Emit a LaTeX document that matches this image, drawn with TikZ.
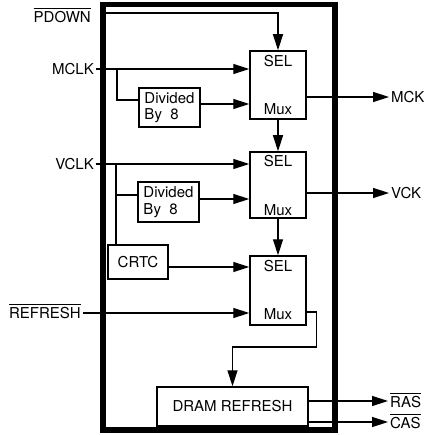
\documentclass[tikz,border=0pt]{standalone}
\usepackage{fontspec}
\setmainfont{TeX Gyre Heros}
\usetikzlibrary{arrows.meta,positioning}
\newcommand{\ovl}[1]{$\overline{\mbox{#1\rule{0pt}{12.5pt}}}$}

\begin{document}
\begin{tikzpicture}[
    x=1pt, y=-1pt,
    font=\fontsize{15}{16.5}\selectfont,
    box/.style={rectangle, draw, line width=1.5pt, inner sep=2pt},
    mux/.style={box, minimum width=56pt, minimum height=68pt},
    divbox/.style={box, minimum width=61pt, minimum height=39pt, align=left},
    pin/.style={inner sep=2pt},
    wire/.style={line width=1.4pt},
    arrow/.style={wire, -{Triangle[length=16pt,width=10pt]}}
]
    \useasboundingbox (0,0) rectangle (429,435);

    % Frame
    \draw[line width=5.5pt] (103,4.5) rectangle (335,430);

    % Multiplexers
    \node[mux, label={[anchor=north, yshift=-2pt]north:SEL}, label={[anchor=south, yshift=1pt]south:Mux}] (mux1) at (278,85) {};
    \node[mux, minimum height=66pt, label={[anchor=north, yshift=-1pt]north:SEL}, label={[anchor=south, yshift=-1pt]south:Mux}] (mux2) at (278,185) {};
    \node[mux, minimum height=69pt, label={[anchor=north, yshift=-2pt]north:SEL}, label={[anchor=south, yshift=2pt]south:Mux}] (mux3) at (278,290.5) {};

    % Blocks
    \node[divbox] (div1) at (169.5,107.5) {Divided\\By~~8};
    \node[divbox, minimum height=40pt] (div2) at (168.5,202) {Divided\\By~~8};
    \node[box, minimum width=60pt, minimum height=34pt] (crtc) at (138,262) {CRTC};
    \node[box, minimum width=151pt, minimum height=39pt] (dram) at (232.5,406.5) {DRAM~REFRESH};

    % Pins
    \node[pin, anchor=east] (pdown) at (93,15) {\ovl{PDOWN}};
    \node[pin, anchor=east] (mclk) at (96,69) {MCLK};
    \node[pin, anchor=east] (vclk) at (96,164) {VCLK};
    \node[pin, anchor=east] (refresh) at (83,311) {\ovl{REFRESH}};
    \node[pin, anchor=west] (mck) at (389,97) {MCK};
    \node[pin, anchor=west] (vck) at (389,193) {VCK};
    \node[pin, anchor=west] (ras) at (388,400) {\ovl{RAS}};
    \node[pin, anchor=west] (cas) at (388,421) {\ovl{CAS}};

    % Ports
    \coordinate (pdin) at (105,13);
    \coordinate (m1sel) at ([yshift=16pt]mux1.west);
    \coordinate (m1in) at ([yshift=-19pt]mux1.west);
    \coordinate (m1out) at ([yshift=-12pt]mux1.east);
    \coordinate (m2sel) at ([yshift=21pt]mux2.west);
    \coordinate (m2in) at ([yshift=-14pt]mux2.west);
    \coordinate (m2out) at ([yshift=-8pt]mux2.east);
    \coordinate (m3sel) at ([yshift=23.5pt]mux3.west);
    \coordinate (m3in) at ([yshift=-22.5pt]mux3.west);
    \coordinate (m3out) at ([yshift=-21.5pt]mux3.east);
    \coordinate (d1in) at ([yshift=7.5pt]div1.west);
    \coordinate (d2in) at ([yshift=7pt]div2.west);
    \coordinate (rasout) at ([yshift=5.5pt]dram.east);
    \coordinate (casout) at ([yshift=-15.5pt]dram.east);
    \coordinate (mbr) at (117,69);
    \coordinate (vbr) at (116,164);

    % Edges
    \draw[arrow] (pdin) -| (mux1.north);
    \draw[arrow] (mclk.east) -- (m1sel);
    \draw[wire] (mbr) |- (d1in);
    \draw[arrow] (div1.east |- m1in) -- (m1in);
    \draw[arrow] (m1out) -- (mck.west);
    \draw[arrow] (mux1.south) -- (mux2.north);
    \draw[arrow] (vclk.east) -- (m2sel);
    \draw[wire] (vbr) -- (vbr |- crtc.north);
    \draw[wire] (vbr |- d2in) -- (d2in);
    \draw[arrow] (div2.east |- m2in) -- (m2in);
    \draw[arrow] (m2out) -- (vck.west);
    \draw[arrow] (mux2.south) -- (mux3.north);
    \draw[arrow] (crtc.east |- m3sel) -- (m3sel);
    \draw[arrow] (refresh.east |- m3in) -- (m3in);
    \draw[arrow] (m3out) -- ++(10,0) -- ++(0,35) -| (dram.north);
    \draw[arrow] (rasout) -- (ras.west |- rasout);
    \draw[arrow] (casout) -- (cas.west |- casout);
\end{tikzpicture}
\end{document}
